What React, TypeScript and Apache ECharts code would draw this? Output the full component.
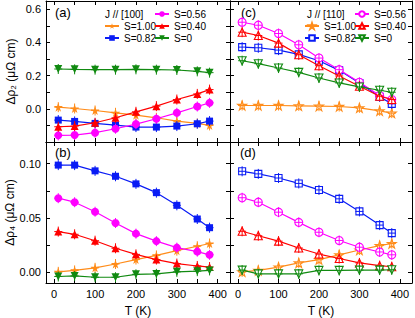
import React, { useEffect, useRef } from "react";
import * as echarts from "echarts";

// Temperatures (K)
const T = [10, 50, 100, 150, 200, 250, 300, 350, 380];

// Panel (a): Δρ2, J // [100]
const a_S100 = [0.01, 0.002, -0.01, -0.024, -0.038, -0.054, -0.074, -0.088, -0.1];
const a_S082 = [-0.068, -0.076, -0.088, -0.098, -0.11, -0.11, -0.104, -0.09, -0.074];
const a_S056 = [-0.16, -0.158, -0.144, -0.12, -0.092, -0.06, -0.024, 0.014, 0.036];
const a_S040 = [-0.108, -0.104, -0.084, -0.054, -0.018, 0.016, 0.056, 0.09, 0.116];
const a_S0 = [0.24, 0.238, 0.236, 0.236, 0.238, 0.236, 0.234, 0.226, 0.218];

// Panel (b): Δρ4, J // [100]
const b_S082 = [0.0987, 0.0987, 0.0934, 0.0884, 0.0814, 0.0733, 0.0616, 0.049, 0.041];
const b_S056 = [0.0682, 0.0645, 0.0557, 0.0453, 0.0355, 0.0286, 0.0226, 0.0189, 0.016];
const b_S040 = [0.0374, 0.0349, 0.029, 0.022, 0.0164, 0.0116, 0.0079, 0.0057, 0.0047];
const b_S100 = [0.0003, 0.0016, 0.004, 0.0075, 0.0116, 0.0154, 0.0198, 0.0239, 0.0264];
const b_S0 = [-0.004, -0.0035, -0.0047, -0.0047, -0.002, -0.0016, 0.0003, 0.0009, 0.0016];

// Panel (c): Δρ2, J // [110]
const c_S056 = [0.522, 0.504, 0.454, 0.386, 0.306, 0.236, 0.16, 0.08, 0.056];
const c_S040 = [0.462, 0.442, 0.396, 0.326, 0.26, 0.198, 0.136, 0.076, 0.056];
const c_S082 = [0.372, 0.368, 0.354, 0.328, 0.29, 0.232, 0.156, 0.072, 0.03];
const c_S0 = [0.29, 0.272, 0.246, 0.22, 0.186, 0.156, 0.132, 0.112, 0.1];
const c_S100 = [0.02, 0.02, 0.02, 0.018, 0.016, 0.014, 0.006, -0.012, -0.026];

// Panel (d): Δρ4, J // [110]
const d_S082 = [0.093, 0.0906, 0.0868, 0.0818, 0.0758, 0.0676, 0.056, 0.0434, 0.036];
const d_S056 = [0.0686, 0.0645, 0.0553, 0.0459, 0.0368, 0.0292, 0.023, 0.0186, 0.016];
const d_S040 = [0.0377, 0.0336, 0.0286, 0.0223, 0.0167, 0.0126, 0.0085, 0.006, 0.005];
const d_S100 = [0.0003, 0.0016, 0.0047, 0.0085, 0.0116, 0.016, 0.0204, 0.0245, 0.0264];
const d_S0 = [0.0019, -0.0016, -0.0016, -0.0016, 0.0016, 0.0016, 0.0019, 0.0019, 0.0022];

// Tick values
const xTicks = [0, 50, 100, 150, 200, 250, 300, 350, 400];
const xLabels = [0, 100, 200, 300, 400];
const y2Ticks = [-0.1, 0, 0.1, 0.2, 0.3, 0.4, 0.5, 0.6];
const y2Labels = [0, 0.2, 0.4, 0.6];
const y4Ticks = [0, 0.025, 0.05, 0.075, 0.1];
const y4Labels = [0, 0.05, 0.1];

const FONT = 'Arial, "Liberation Sans", sans-serif';

const STAR = "path://M5,0 L6.2,3.6 L10,3.6 L6.9,5.9 L8.1,9.5 L5,7.3 L1.9,9.5 L3.1,5.9 L0,3.6 L3.8,3.6 Z";
const DOWN = "path://M0,0 L10,0 L5,9 Z";

const KINDS = [
  { key: "S=1.00", color: "#ff8c1a", symbol: STAR, size: 9 },
  { key: "S=0.82", color: "#0a1cf5", symbol: "rect", size: 7 },
  { key: "S=0.56", color: "#ff00ff", symbol: "circle", size: 8 },
  { key: "S=0.40", color: "#ff0000", symbol: "triangle", size: 8 },
  { key: "S=0", color: "#118a11", symbol: DOWN, size: 8 },
];

const PANELS = [
  { id: "a", grid: 0, open: false, data: [a_S100, a_S082, a_S056, a_S040, a_S0] },
  { id: "b", grid: 1, open: false, data: [b_S100, b_S082, b_S056, b_S040, b_S0] },
  { id: "c", grid: 2, open: true, data: [c_S100, c_S082, c_S056, c_S040, c_S0] },
  { id: "d", grid: 3, open: true, data: [d_S100, d_S082, d_S056, d_S040, d_S0] },
];

const GRIDS = [
  { left: 46, top: 1, width: 184, height: 141 },
  { left: 46, top: 142, width: 184, height: 141 },
  { left: 230, top: 1, width: 182, height: 141 },
  { left: 230, top: 142, width: 182, height: 141 },
];

function buildOption() {
  const xAxis: any[] = [];
  const yAxis: any[] = [];
  GRIDS.forEach((_, g) => {
    const isBottom = g === 1 || g === 3;
    const isLeft = g === 0 || g === 1;
    const base = {
      gridIndex: g,
      type: "value",
      splitLine: { show: false },
      axisLine: { show: true, onZero: false, lineStyle: { color: "#000", width: 1 } },
      axisTick: { show: true, inside: true, length: 4, lineStyle: { color: "#000" } },
    };
    xAxis.push({
      ...base,
      position: "bottom",
      min: -20,
      max: 430,
      axisTick: { ...base.axisTick, customValues: xTicks },
      axisLabel: {
        show: isBottom,
        customValues: xLabels,
        fontSize: 11,
        color: "#000",
        fontFamily: FONT,
        margin: 5,
      },
      name: isBottom ? "T (K)" : "",
      nameLocation: "middle",
      nameGap: 22,
      nameTextStyle: { fontSize: 12, color: "#000", fontFamily: FONT },
    });
    xAxis.push({
      ...base,
      position: "top",
      min: -20,
      max: 430,
      axisTick: { ...base.axisTick, customValues: xTicks },
      axisLabel: { show: false },
    });
    const top = !isBottom;
    yAxis.push({
      ...base,
      position: "left",
      min: top ? -0.2 : -0.01,
      max: top ? 0.65 : 0.12,
      axisTick: { ...base.axisTick, customValues: top ? y2Ticks : y4Ticks },
      axisLabel: {
        show: isLeft,
        customValues: top ? y2Labels : y4Labels,
        formatter: (v: number) => v.toFixed(top ? 1 : 2),
        fontSize: 11,
        color: "#000",
        fontFamily: FONT,
        margin: 5,
      },
      name: isLeft ? (top ? "Δρ₂ (μΩ cm)" : "Δρ₄ (μΩ cm)") : "",
      nameLocation: "middle",
      nameGap: 29,
      nameRotate: 90,
      nameTextStyle: { fontSize: 12, color: "#000", fontFamily: FONT },
    });
    yAxis.push({
      ...base,
      position: "right",
      min: top ? -0.2 : -0.01,
      max: top ? 0.65 : 0.12,
      axisTick: { ...base.axisTick, customValues: top ? y2Ticks : y4Ticks },
      axisLabel: { show: false },
    });
  });

  const series: any[] = [];
  PANELS.forEach((p) => {
    KINDS.forEach((k, i) => {
      const prefix = p.id === "a" ? "" : p.id + ":";
      const pts = T.map((t, j) => [t, p.data[i][j]]);
      series.push({
        type: "line",
        name: prefix + k.key,
        xAxisIndex: p.grid * 2,
        yAxisIndex: p.grid * 2,
        data: pts,
        symbol: k.symbol,
        symbolSize: k.size,
        showSymbol: true,
        lineStyle: { color: k.color, width: 1.2 },
        itemStyle: p.open
          ? { color: "#ffffff", borderColor: k.color, borderWidth: 1.1 }
          : { color: k.color, borderWidth: 0 },
        z: 2 + i * 2,
      });
      // small error-bar crosses through each point
      series.push({
        type: "custom",
        name: prefix + k.key + "-err",
        xAxisIndex: p.grid * 2,
        yAxisIndex: p.grid * 2,
        data: pts,
        z: 3 + i * 2,
        silent: true,
        renderItem: (_params: any, api: any) => {
          const c = api.coord([api.value(0), api.value(1)]);
          const st = { stroke: k.color, lineWidth: 1 };
          return {
            type: "group",
            children: [
              { type: "line", shape: { x1: c[0], y1: c[1] - 5, x2: c[0], y2: c[1] + 5 }, style: st },
              { type: "line", shape: { x1: c[0] - 4, y1: c[1], x2: c[0] + 4, y2: c[1] }, style: st },
            ],
          };
        },
      });
    });
  });

  // legend items positioned individually
  const legendPos: { [k: string]: [number, number] } = {
    "S=0.56": [0, 0],
    "S=1.00": [-1, 1],
    "S=0.40": [0, 1],
    "S=0.82": [-1, 2],
    "S=0": [0, 2],
  };
  const legend: any[] = [];
  const legendSets = [
    { prefix: "", col1: 104, col2: 154 },
    { prefix: "c:", col1: 304, col2: 354 },
  ];
  legendSets.forEach((s) => {
    Object.keys(legendPos).forEach((key) => {
      const [c, r] = legendPos[key];
      legend.push({
        left: c < 0 ? s.col1 : s.col2,
        top: 9 + r * 12,
        padding: 0,
        itemWidth: 14,
        itemHeight: 7,
        selectedMode: false,
        data: [s.prefix + key],
        formatter: (n: string) => n.replace(/^[a-d]:/, ""),
        textStyle: { fontSize: 10, color: "#000", fontFamily: FONT },
      });
    });
  });

  const textStyle = (txt: string, size: number) => ({
    text: txt,
    fontSize: size,
    fontFamily: FONT,
    fill: "#000",
  });

  const graphic: any[] = [
    { type: "text", left: 55, top: 6, style: textStyle("(a)", 13) },
    { type: "text", left: 55, top: 146, style: textStyle("(b)", 13) },
    { type: "text", left: 241, top: 6, style: textStyle("(c)", 13) },
    { type: "text", left: 240, top: 146, style: textStyle("(d)", 13) },
    { type: "text", left: 105, top: 9, style: textStyle("J // [100]", 10) },
    { type: "text", left: 307, top: 9, style: textStyle("J // [110]", 10) },
  ];

  return {
    animation: false,
    backgroundColor: "#ffffff",
    grid: GRIDS.map((g) => ({ ...g, containLabel: false })),
    xAxis,
    yAxis,
    legend,
    series,
    graphic,
  };
}

export default function App() {
  const ref = useRef<HTMLDivElement>(null);
  useEffect(() => {
    if (!ref.current) return;
    const chart = echarts.init(ref.current, undefined, { renderer: "svg" });
    chart.setOption(buildOption() as any);
    return () => chart.dispose();
  }, []);
  return (
    <div
      ref={ref}
      style={{ position: "fixed", left: 0, top: 0, width: 415, height: 318, background: "#fff" }}
    />
  );
}
